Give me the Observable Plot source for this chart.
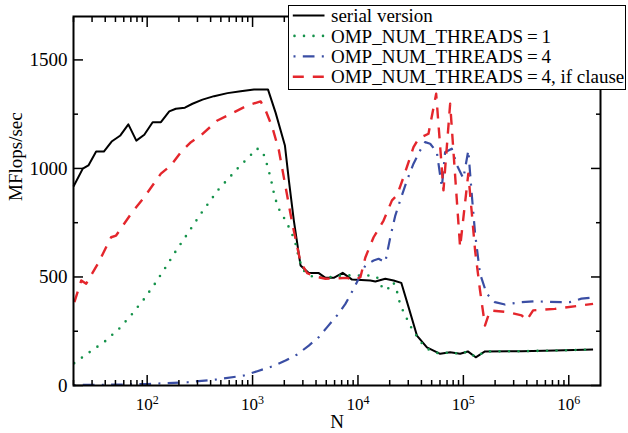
<!DOCTYPE html>
<html><head><meta charset="utf-8">
<script src="https://cdn.jsdelivr.net/npm/d3@7"></script>
<script src="https://cdn.jsdelivr.net/npm/@observablehq/plot@0.6"></script>
<style>
body{margin:0;background:#fff;}
#wrap{position:relative;width:628px;height:433px;font-family:"Liberation Serif","Times New Roman",serif;}
#legend{position:absolute;left:288px;top:5px;width:336px;height:83px;border:1.5px solid #000;background:#fff;}
#legend svg{display:block;}
#wrap svg text{font-family:"Liberation Serif","Times New Roman",serif;}
</style></head><body><div id="wrap"></div>
<script>
// ---- data ----
const serialN = [20, 24.5, 27.7, 32.8, 38.8, 46, 55.7, 66.3, 78.9, 93.9, 112.7, 135, 162, 187, 228, 269, 335, 431, 578, 771, 1031, 1399, 1656, 2027, 2210, 2464, 2851, 3417, 4250, 4918, 5890, 7163, 8790, 13100, 14620, 18160, 21780, 25760, 30200, 36250, 45070, 60200, 74900, 93100, 110200, 131000, 160300, 357000, 738000, 1700000];
const serialV = [917, 999, 1014, 1078, 1078, 1124, 1152, 1203, 1128, 1155, 1213, 1213, 1263, 1275, 1280, 1298, 1317, 1333, 1347, 1356, 1364, 1364, 1256, 1106, 945, 760, 553, 518, 518, 496, 496, 519, 488, 484, 479, 492, 484, 473, 361, 230, 176, 146, 153, 146, 157, 130, 157, 158, 161, 166];

const omp1N = [20.3, 28.3, 39.9, 54.5, 71.3, 92.6, 118.5, 148, 184, 233, 328, 475, 718, 960, 1094, 1239, 1331, 1484, 1618, 1762, 2055, 2343, 2557, 2731, 2917, 3180, 3810, 4742, 5890, 7163, 8660, 13100, 15170, 16920, 18850, 21000, 22600, 24830, 27060, 32480, 36730, 41870, 48420, 60200, 74900, 93100, 110200, 131000, 160300, 357000, 738000, 1700000];
const omp1V = [103, 153, 204, 263, 327, 396, 469, 541, 614, 688, 796, 903, 999, 1061, 1092, 1080, 1040, 957, 871, 816, 760, 705, 653, 594, 548, 518, 499, 496, 502, 508, 507, 507, 499, 453, 438, 476, 465, 384, 338, 261, 222, 184, 161, 146, 153, 146, 157, 130, 157, 158, 161, 166];

const omp4N = [20, 50, 100, 242, 464, 830, 1110, 1538, 2055, 2655, 3417, 4250, 5100, 6340, 7600, 8920, 10160, 11750, 14070, 15690, 18160, 20260, 22600, 25180, 29170, 33650, 38900, 43400, 48420, 56000, 62500, 67100, 77600, 87100, 100000, 111400, 120000, 129200, 143900, 166300, 199500, 247900, 357000, 476000, 853000, 1021000, 1318000, 1581000, 1700000];
const omp4V = [2, 4, 7, 15, 28, 46, 66, 88, 115, 143, 184, 223, 269, 323, 376, 438, 492, 553, 576, 584, 568, 683, 783, 853, 945, 1022, 1083, 1121, 1114, 1075, 914, 1075, 1091, 1014, 954, 1083, 883, 699, 515, 423, 384, 373, 384, 388, 384, 384, 400, 404, 400];

const ompIfN = [20.4, 23.7, 26.4, 34.1, 45.5, 50.7, 70.3, 93.9, 135, 168, 209, 260, 323, 464, 667, 893, 1193, 1331, 1538, 1778, 2058, 2384, 2655, 2851, 3298, 3954, 4918, 6120, 7890, 9100, 10540, 11750, 14070, 17490, 21020, 23440, 27060, 33650, 37530, 46670, 55200, 64740, 74900, 93100, 111400, 129200, 143900, 160300, 178900, 266600, 357000, 398000, 459000, 738000, 1700000];
const ompIfV = [384, 484, 469, 561, 683, 691, 791, 868, 976, 1014, 1075, 1121, 1152, 1221, 1259, 1290, 1309, 1267, 1190, 1083, 914, 745, 638, 568, 518, 502, 492, 493, 496, 484, 499, 590, 683, 760, 853, 876, 960, 1098, 1137, 1160, 1344, 899, 1298, 637, 976, 622, 438, 276, 346, 338, 323, 300, 346, 353, 376];

const seriesNames = ["serial version", "OMP_NUM_THREADS\u2009=\u20091", "OMP_NUM_THREADS\u2009=\u20094", "OMP_NUM_THREADS\u2009=\u20094, if clause"];

const xMajorTicks = [1e2, 1e3, 1e4, 1e5, 1e6];
const xMinorTicks = [20,30,40,50,60,70,80,90, 200,300,400,500,600,700,800,900, 2000,3000,4000,5000,6000,7000,8000,9000, 20000,30000,40000,50000,60000,70000,80000,90000, 200000,300000,400000,500000,600000,700000,800000,900000];
const yMajorTicks = [0, 500, 1000, 1500];
const yMinorTicks = [250, 750, 1250];
const xLabel = "N";
const yLabel = "MFlops/sec";

const FONT = '"Liberation Serif", "Times New Roman", serif';

// ---- styles ----
const styles = [
  {color: "#000000", width: 2, dash: null, cap: "butt"},
  {color: "#14924a", width: 2.6, dash: "0 9.5", cap: "round"},
  {color: "#3a4ea4", width: 2.2, dash: "2 7.3 11.7 7.3", cap: "butt"},
  {color: "#e4262c", width: 2.4, dash: "11 9", cap: "butt"}
];
const seriesData = [[serialN, serialV], [omp1N, omp1V], [omp4N, omp4V], [ompIfN, ompIfV]];

const lineMarks = seriesData.map(([N, V], k) =>
  Plot.line(N.map((n, i) => ({N: n, V: V[i]})), {
    x: "N", y: "V", stroke: styles[k].color, strokeWidth: styles[k].width,
    strokeDasharray: styles[k].dash, strokeLinecap: styles[k].cap, strokeLinejoin: "round"
  })
);

const chart = Plot.plot({
  width: 628, height: 433,
  marginTop: 16, marginRight: 28, marginBottom: 48, marginLeft: 73,
  style: {fontFamily: FONT, fontSize: "19px", color: "#000", background: "#fff"},
  x: {type: "log", domain: [20, 2e6], axis: null},
  y: {domain: [0, 1700], axis: null},
  marks: [
    ...lineMarks,
    Plot.frame({stroke: "#000", strokeWidth: 2}),
    Plot.axisX(xMajorTicks, {anchor: "bottom", tickSize: -10, fill: "none", strokeWidth: 1.5}),
    Plot.axisX(xMinorTicks, {anchor: "bottom", tickSize: -5, fill: "none", strokeWidth: 1.5}),
    Plot.axisX(xMajorTicks, {anchor: "top", tickSize: -10, fill: "none", strokeWidth: 1.5}),
    Plot.axisX(xMinorTicks, {anchor: "top", tickSize: -5, fill: "none", strokeWidth: 1.5}),
    Plot.axisY(yMajorTicks, {anchor: "left", tickSize: -10, fill: "none", strokeWidth: 1.5}),
    Plot.axisY(yMinorTicks, {anchor: "left", tickSize: -5, fill: "none", strokeWidth: 1.5}),
    Plot.axisY(yMajorTicks, {anchor: "right", tickSize: -10, fill: "none", strokeWidth: 1.5}),
    Plot.axisY(yMinorTicks, {anchor: "right", tickSize: -5, fill: "none", strokeWidth: 1.5}),
    Plot.axisX(xMajorTicks, {anchor: "bottom", tickSize: 0, tickPadding: 12, fontSize: 17, label: null,
      tickFormat: d => "10^" + Math.round(Math.log10(d))}),
    Plot.axisY(yMajorTicks, {anchor: "left", tickSize: 0, tickPadding: 6, fontSize: 19, label: null,
      tickFormat: d => String(d)}),
    Plot.text([xLabel], {frameAnchor: "bottom", dy: 42, fontSize: 19, fill: "#000"}),
    Plot.text([yLabel], {frameAnchor: "left", dx: -58, rotate: -90, fontSize: 19, fill: "#000"})
  ]
});

// superscripts for decade labels
chart.querySelectorAll('g[aria-label="x-axis tick label"] text').forEach(t => {
  const s = t.textContent;
  const m = s.match(/^10\^(\d+)$/);
  if (m) {
    t.textContent = "10";
    const ts = document.createElementNS("http://www.w3.org/2000/svg", "tspan");
    ts.setAttribute("dy", "-0.45em");
    ts.setAttribute("font-size", "12");
    ts.textContent = m[1];
    t.appendChild(ts);
  }
});

const wrap = document.getElementById("wrap");
wrap.appendChild(chart);

// legend
const leg = d3.select(wrap).append("div").attr("id", "legend");
const lsvg = leg.append("svg").attr("width", 336).attr("height", 83);
seriesNames.forEach((name, i) => {
  const cy = 9.5 + i * 20.4;
  const st = styles[i];
  const x1 = i === 1 ? 5.5 : (i === 2 ? 4.5 : 3.8);
  lsvg.append("line").attr("x1", x1).attr("x2", 35.5).attr("y1", cy).attr("y2", cy)
    .attr("stroke", st.color).attr("stroke-width", st.width)
    .attr("stroke-dasharray", st.dash).attr("stroke-linecap", st.cap);
  lsvg.append("text").attr("x", 42).attr("y", cy).attr("dy", "0.35em")
    .attr("font-family", FONT)
    .attr("font-size", 19).attr("fill", "#000").text(name);
});
</script>
</body></html>
